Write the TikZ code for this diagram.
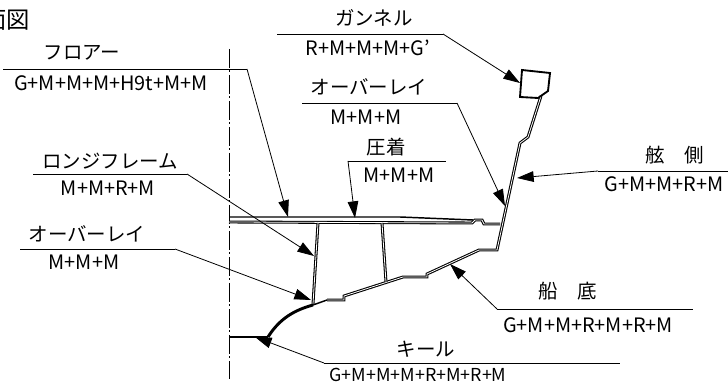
\documentclass[tikz,border=0pt]{standalone}
\usepackage{fontspec}
\setmainfont{Noto Sans CJK JP}
\usetikzlibrary{arrows.meta}

\begin{document}
\begin{tikzpicture}[
    x=0.75pt, y=-0.75pt,
    font=\fontsize{14.6pt}{16pt}\selectfont,
    % Styles for labels and lines
    tag/.style={inner sep=0pt, anchor=center},
    code/.style={inner sep=0pt, anchor=center, font=\fontsize{14.9pt}{17pt}\selectfont},
    rulew/.style={draw=black, line width=0.7pt},
    leader/.style={
        draw=black,
        -{Triangle[length=12.5pt,width=8pt]},
        line width=0.6pt
    },
    hull/.style={
        draw=black,
        line width=0.8pt,
        double=white,
        double distance=0.6pt,
        line join=miter
    },
    single/.style={draw=black, line width=1.1pt},
    keel/.style={draw=black, line width=2.2pt},
    centre/.style={draw=black, line width=0.6pt, dash pattern=on 14pt off 2pt on 1.5pt off 2pt}
]
    \useasboundingbox (0,0) rectangle (728,384);

    % --- Title ---
    \node[tag, font=\fontsize{17.5pt}{19pt}\selectfont, anchor=east] (title) at (30,20) {面図};

    % --- Centre line ---
    \coordinate (cTop) at (229,49);
    \coordinate (cBot) at (229,379);
    \draw[centre] (cTop) -- (cBot);

    % --- Hull ---
    % Floor
    \draw[single] (229,217) -- (400,217) -- (473,220);
    \draw[hull] (229,222) -- (472,223) -- (475,220) -- (482,220) -- (484,224) -- (500,224);
    % Bottom and side
    \draw[hull] (327,300) -- (344,300) -- (344,296) -- (403,277) -- (427,277) -- (427,274)
        -- (479,250) -- (497,250) -- (520,143) -- (528,137) -- (541,96);
    % Keel
    \draw[keel] (268,337) .. controls (280,318) and (295,310) .. (313,305);
    \draw[single] (313,305) -- (327,300);
    \draw[single] (229,337) -- (268,337);
    % Frames
    \draw[hull] (318,223) -- (313,304);
    \draw[hull] (382,223) -- (386,282);
    % Gunwale
    \draw[draw=black, line width=1.4pt] (522,70) -- (550,73) -- (548,91) -- (538,98) -- (520,97) -- cycle;

    % --- Labels ---

    % Floor
    \node[tag] (floorT) at (82,53) {フロアー};
    \node[code] (floorB) at (111,83) {G+M+M+M+H9t+M+M};
    \coordinate (floorL) at (3,69);
    \coordinate (floorR) at (247,69);
    \coordinate (floorP) at (288,217);
    \draw[rulew] (floorL) -- (floorR);
    \draw[leader] (floorR) -- (floorP);

    % Longitudinal frame
    \node[tag] (longT) at (110,161) {ロンジフレーム};
    \node[code] (longB) at (108,188) {M+M+R+M};
    \coordinate (longL) at (33,174);
    \coordinate (longR) at (187,174);
    \coordinate (longP) at (314,256);
    \draw[rulew] (longL) -- (longR);
    \draw[leader] (longR) -- (longP);

    % Overlay, left
    \node[tag] (overAT) at (87,234) {オーバーレイ};
    \node[code] (overAB) at (84,262) {M+M+M};
    \coordinate (overAL) at (20,249);
    \coordinate (overAR) at (175,249);
    \coordinate (overAP) at (311,300);
    \draw[rulew] (overAL) -- (overAR);
    \draw[leader] (overAR) -- (overAP);

    % Gunwale
    \node[tag] (gunT) at (374,18) {ガンネル};
    \node[code] (gunB) at (368,48) {R+M+M+M+G'};
    \coordinate (gunL) at (277,34);
    \coordinate (gunR) at (443,34);
    \coordinate (gunP) at (520,83);
    \draw[rulew] (gunL) -- (gunR);
    \draw[leader] (gunR) -- (gunP);

    % Overlay, upper
    \node[tag] (overBT) at (369,87) {オーバーレイ};
    \node[code] (overBB) at (366,117) {M+M+M};
    \coordinate (overBL) at (302,103);
    \coordinate (overBR) at (457,103);
    \coordinate (overBP) at (505,206);
    \draw[rulew] (overBL) -- (overBR);
    \draw[leader] (overBR) -- (overBP);

    % Press bond
    \node[tag] (pressT) at (386,147) {圧着};
    \node[code] (pressB) at (399,175) {M+M+M};
    \coordinate (pressL) at (348,161);
    \coordinate (pressR) at (446,161);
    \coordinate (pressP) at (355,218);
    \draw[rulew] (pressL) -- (pressR);
    \draw[leader] (pressL) -- (pressP);

    % Side
    \node[tag] (sideT) at (675,155) {舷\hspace{1em}側};
    \node[code] (sideB) at (664,184) {G+M+M+R+M};
    \coordinate (sideL) at (598,171);
    \coordinate (sideR) at (728,171);
    \coordinate (sideP) at (517,178);
    \draw[rulew] (sideL) -- (sideR);
    \draw[leader] (sideL) -- (sideP);

    % Bottom
    \node[tag] (botT) at (568,291) {船\hspace{1em}底};
    \node[code] (botB) at (588,325) {G+M+M+R+M+R+M};
    \coordinate (botL) at (497,309);
    \coordinate (botR) at (693,309);
    \coordinate (botP) at (450,264);
    \draw[rulew] (botL) -- (botR);
    \draw[leader] (botL) -- (botP);

    % Keel
    \node[tag] (keelT) at (426,349) {キール};
    \node[code, font=\fontsize{13.4pt}{15pt}\selectfont] (keelB) at (418,375) {G+M+M+M+R+M+R+M};
    \coordinate (keelL) at (324,363);
    \coordinate (keelR) at (620,363);
    \coordinate (keelP) at (255,337);
    \draw[rulew] (keelL) -- (keelR);
    \draw[leader] (keelL) -- (keelP);
\end{tikzpicture}
\end{document}
